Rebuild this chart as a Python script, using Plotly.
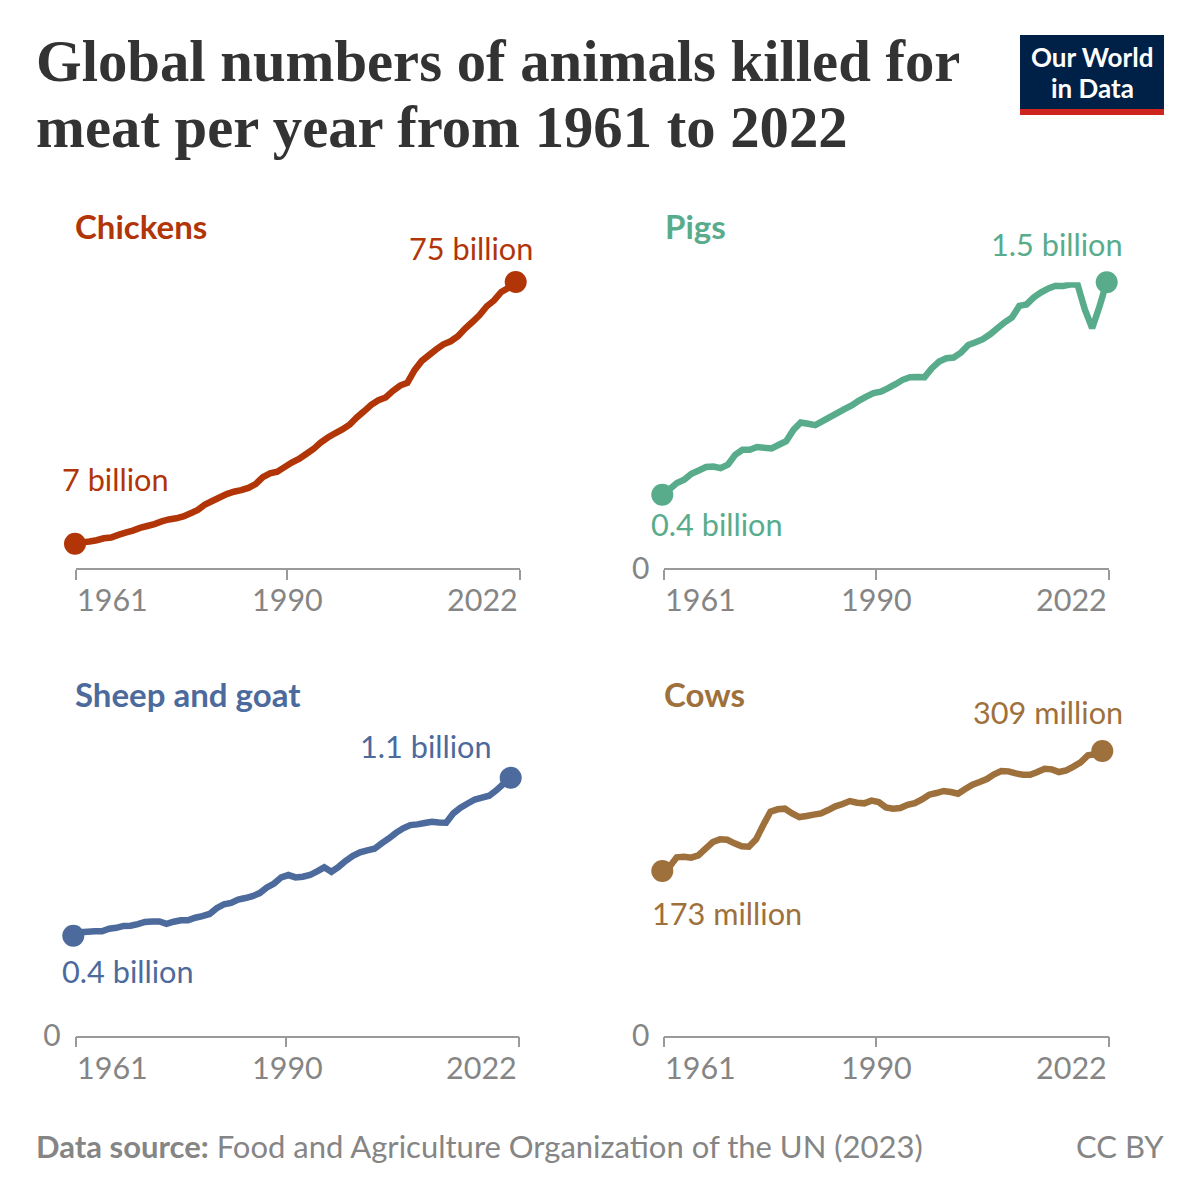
import plotly.graph_objects as go

# values
years = list(range(1961, 2023))
tick_years = [1961, 1990, 2022]
chickens_bn = [7.0, 7.35, 7.6, 7.9, 8.4, 8.6, 9.3, 9.9, 10.4, 11.1, 11.6, 12.1, 12.8, 13.3, 13.6, 14.1,
               14.9, 15.8, 17.2, 18.1, 19.0, 19.9, 20.5, 20.9, 21.5, 22.5, 24.3, 25.3, 25.7, 26.9, 28.1,
               29.0, 30.3, 31.6, 33.3, 34.6, 35.7, 36.7, 37.9, 39.8, 41.4, 43.1, 44.3, 45.0, 46.7, 48.1,
               48.8, 52.1, 54.5, 56.0, 57.5, 58.8, 59.6, 60.9, 62.9, 64.6, 66.4, 68.7, 70.2, 72.4, 73.5, 75.0]
pigs_bn = [0.385, 0.414, 0.446, 0.463, 0.495, 0.512, 0.530, 0.533, 0.524, 0.542, 0.594, 0.621, 0.621,
           0.635, 0.631, 0.628, 0.647, 0.666, 0.725, 0.764, 0.757, 0.750, 0.771, 0.792, 0.813, 0.834,
           0.853, 0.879, 0.900, 0.918, 0.926, 0.944, 0.965, 0.988, 1.002, 1.003, 1.002, 1.049, 1.084,
           1.101, 1.105, 1.131, 1.171, 1.185, 1.201, 1.227, 1.259, 1.290, 1.315, 1.376, 1.384, 1.421,
           1.447, 1.468, 1.482, 1.481, 1.488, 1.488, 1.358, 1.259, 1.372, 1.500]
sheep_goat_bn = [0.426, 0.441, 0.443, 0.445, 0.445, 0.456, 0.460, 0.468, 0.469, 0.476, 0.485, 0.487, 0.487,
                 0.477, 0.486, 0.492, 0.492, 0.503, 0.510, 0.519, 0.544, 0.560, 0.566, 0.580, 0.587, 0.595,
                 0.608, 0.632, 0.649, 0.675, 0.685, 0.675, 0.678, 0.685, 0.701, 0.718, 0.699, 0.720, 0.746,
                 0.767, 0.782, 0.790, 0.797, 0.820, 0.841, 0.865, 0.884, 0.898, 0.901, 0.907, 0.912, 0.909,
                 0.908, 0.948, 0.972, 0.990, 1.007, 1.015, 1.023, 1.046, 1.074, 1.100]
cows_mn = [178.7, 183.4, 193.6, 194.3, 193.2, 195.7, 203.0, 210.2, 213.1, 212.7, 208.8, 205.5, 205.1, 213.1,
           228.7, 243.1, 245.7, 246.4, 241.3, 237.3, 238.4, 239.9, 241.3, 244.9, 248.9, 251.5, 254.7, 252.9,
           252.2, 255.1, 253.6, 247.8, 246.4, 247.1, 250.7, 252.5, 256.5, 261.6, 263.4, 265.6, 264.5, 262.7,
           267.7, 272.4, 275.3, 278.6, 283.7, 287.3, 286.9, 284.7, 283.3, 283.3, 286.2, 289.8, 289.1, 286.2,
           288.0, 292.0, 296.7, 304.3, 305.4, 309.0]

FONT = "Lato"
GREY = "#858585"
AXIS_GREY = "#9a9a9a"
SIZE = 1200
LABEL_PAD = 3  # annotations sit this far inside their box


def px_x(x):
    return x / SIZE


def px_y(y):
    return 1 - y / SIZE


# pixel layout of each panel: axis span, data span, baseline, top, y range, text spots
panels = [
    dict(name="Chickens", values=chickens_bn, color="#B13507", axis=(75.7, 520), data=(75, 515.7),
         base=568, top=282, yrange=(0.69, 75), zero=False, title=(76, 226.5),
         start=("7 billion", 63, 479), end=("75 billion", 532, 248)),
    dict(name="Pigs", values=pigs_bn, color="#58AC8C", axis=(664.3, 1108.7), data=(662.3, 1106.7),
         base=568, top=282.3, yrange=(0, 1.5), zero=True, title=(666, 226.5),
         start=("0.4 billion", 652, 524), end=("1.5 billion", 1122, 244)),
    dict(name="Sheep and goat", values=sheep_goat_bn, color="#4C6A9C", axis=(75.7, 519), data=(73.3, 510.7),
         base=1035.7, top=777.7, yrange=(0, 1.1), zero=True, title=(76, 693.5),
         start=("0.4 billion", 63, 971), end=("1.1 billion", 491, 746)),
    dict(name="Cows", values=cows_mn, color="#9E703C", axis=(664.3, 1108.7), data=(662.3, 1102.3),
         base=1035.7, top=751, yrange=(0, 309), zero=True, title=(665, 693.5),
         start=("173 million", 653, 913), end=("309 million", 1122, 712)),
]


def addText(annotations, text, x, y, size, color, anchor="left", family=FONT):
    shift = {"left": -LABEL_PAD, "right": LABEL_PAD, "center": 0}[anchor]
    annotations.append(dict(text=text, x=px_x(x), xshift=shift, y=px_y(y), xref="paper", yref="paper",
                            showarrow=False, xanchor=anchor, yanchor="middle",
                            font=dict(family=family, size=size, color=color)))


fig = go.Figure()
annotations = []
axes = {}

for i, panel in enumerate(panels, start=1):
    tickAxis = "xaxis" if i == 1 else "xaxis%d" % i
    yAxis = "yaxis" if i == 1 else "yaxis%d" % i
    dataAxis = "xaxis%d" % (i + 4)
    tickRef = "x" if i == 1 else "x%d" % i
    yRef = "y" if i == 1 else "y%d" % i
    color = panel["color"]

    # visible axis with the three year ticks
    axes[tickAxis] = dict(domain=[px_x(panel["axis"][0]), px_x(panel["axis"][1])], range=[1961, 2022],
                          anchor=yRef, tickvals=tick_years, showticklabels=False, ticks="outside", ticklen=10,
                          tickcolor=AXIS_GREY, tickwidth=1.5, showline=True, linecolor=AXIS_GREY, linewidth=1.5,
                          showgrid=False, zeroline=False, automargin=False)
    # the lines sit slightly inside the ticks in the original, so they get their own hidden axis
    axes[dataAxis] = dict(domain=[px_x(panel["data"][0]), px_x(panel["data"][1])], range=[1961, 2022],
                          anchor=yRef, visible=False, automargin=False)
    axes[yAxis] = dict(domain=[px_y(panel["base"]), px_y(panel["top"])], range=list(panel["yrange"]),
                       anchor=tickRef, showgrid=False, zeroline=False, showline=False, ticks="",
                       tickvals=[0] if panel["zero"] else [], ticktext=["0"] if panel["zero"] else [],
                       ticklabelstandoff=14, tickfont=dict(family=FONT, size=30, color=GREY), automargin=False)

    # simplify off, otherwise the small wiggles get flattened at this line width
    fig.add_trace(go.Scatter(x=years, y=panel["values"], mode="lines",
                             line=dict(color=color, width=6.5, simplify=False),
                             xaxis=dataAxis.replace("axis", ""), yaxis=yRef, cliponaxis=False, showlegend=False))
    fig.add_trace(go.Scatter(x=[years[0], years[-1]], y=[panel["values"][0], panel["values"][-1]], mode="markers",
                             marker=dict(color=color, size=22), xaxis=dataAxis.replace("axis", ""), yaxis=yRef,
                             cliponaxis=False, showlegend=False))

    addText(annotations, "<b>%s</b>" % panel["name"], panel["title"][0], panel["title"][1], 33, color)
    addText(annotations, panel["start"][0], panel["start"][1], panel["start"][2], 30.7, color)
    addText(annotations, panel["end"][0], panel["end"][1], panel["end"][2], 30.7, color, anchor="right")

    # year labels: first one hangs right of its tick, last one left of it
    for year, anchor, shift in zip(tick_years, ["left", "center", "right"], [-1, 1, 0]):
        annotations.append(dict(text=str(year), x=year, xref=tickRef, y=px_y(panel["base"] + 31), yref="paper",
                                showarrow=False, xanchor=anchor, xshift=shift, yanchor="middle",
                                font=dict(family=FONT, size=30.5, color=GREY)))

# headline
addText(annotations, "<b>Global numbers of animals killed for</b>", 37, 62, 58.7, "#333333", family="Liberation Serif")
addText(annotations, "<b>meat per year from 1961 to 2022</b>", 37, 127, 58.7, "#333333", family="Liberation Serif")

# logo
shapes = [
    dict(type="rect", xref="paper", yref="paper", x0=px_x(1020), x1=px_x(1164), y0=px_y(35), y1=px_y(109),
         fillcolor="#002147", line_width=0),
    dict(type="rect", xref="paper", yref="paper", x0=px_x(1020), x1=px_x(1164), y0=px_y(109), y1=px_y(115),
         fillcolor="#CE261E", line_width=0),
]
addText(annotations, "<b>Our World</b>", 1092, 57, 26, "#FFFFFF", anchor="center")
addText(annotations, "<b>in Data</b>", 1092, 88, 26, "#FFFFFF", anchor="center")

# footer
addText(annotations, "<b>Data source:</b> Food and Agriculture Organization of the UN (2023)", 37, 1146, 31, GREY)
addText(annotations, "CC BY", 1163, 1146, 31, GREY, anchor="right")

fig.update_layout(width=SIZE, height=SIZE, margin=dict(l=0, r=0, t=0, b=0), paper_bgcolor="white",
                  plot_bgcolor="white", showlegend=False, annotations=annotations, shapes=shapes, **axes)

fig.write_html("out.html", config=dict(displayModeBar=False),
               post_script="document.body.style.margin='0';")
